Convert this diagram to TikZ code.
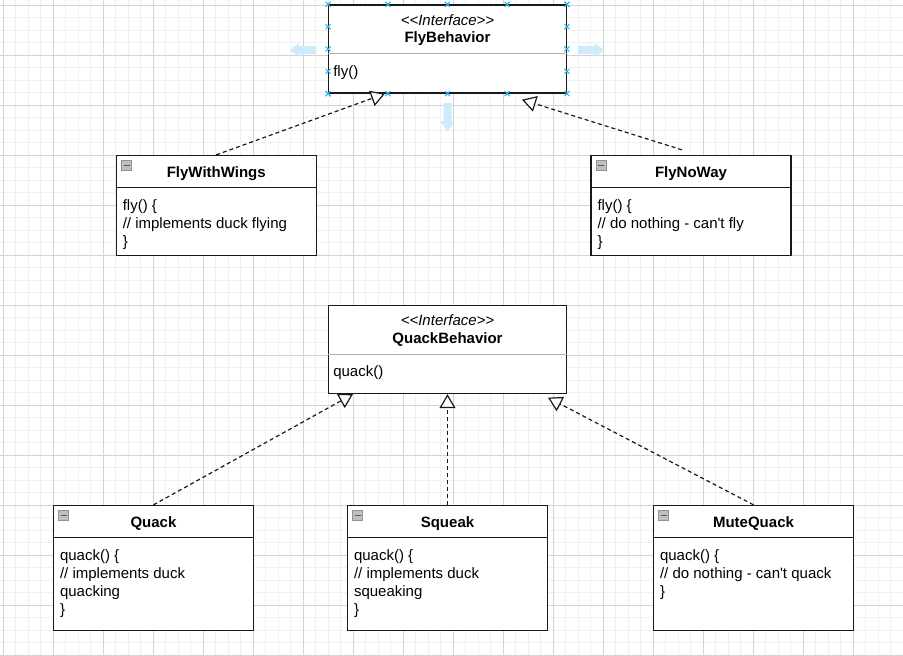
\documentclass[tikz,border=0pt]{standalone}
\usepackage{fontspec}
\setmainfont{Liberation Sans}[Ligatures=TeXOff]
\usepackage{tikz}
\usetikzlibrary{positioning, arrows.meta, calc}
\usepackage{xcolor}

\definecolor{gridminor}{RGB}{240,240,240}
\definecolor{gridmajor}{RGB}{212,212,212}
\definecolor{handle}{RGB}{41,182,242}
\definecolor{hint}{RGB}{207,234,249}

\begin{document}
\begin{tikzpicture}[
    x=1pt, y=-1pt,
    font=\fontsize{15pt}{18pt}\selectfont,
    umlbox/.style={draw=black!90, line width=1.3pt, fill=white, inner sep=0pt},
    iface/.style={umlbox, minimum width=237.5pt, minimum height=88pt},
    cls/.style={umlbox, minimum width=200pt, minimum height=100pt},
    stereo/.style={font=\fontsize{15pt}{18pt}\selectfont\itshape, anchor=base, inner sep=0pt},
    ttl/.style={font=\fontsize{15pt}{18pt}\selectfont\bfseries, anchor=base, inner sep=0pt},
    ops/.style={anchor=north west, align=left, inner sep=0pt},
    realize/.style={draw=black!90, line width=1.2pt, dash pattern=on 4pt off 3pt,
        -{Triangle[open, fill=white, length=14pt, width=16pt]}}
]
    % Canvas with the editor grid
    \useasboundingbox (0,0) rectangle (903,656);
    \fill[white] (0,0) rectangle (903,656);
    \foreach \i in {0,...,72} \draw[gridminor, line width=1pt] (3+12.5*\i,0) -- (3+12.5*\i,656);
    \foreach \i in {0,...,52} \draw[gridminor, line width=1pt] (0,5+12.5*\i) -- (903,5+12.5*\i);
    \foreach \i in {0,...,18} \draw[gridmajor, line width=1pt] (3+50*\i,0) -- (3+50*\i,656);
    \foreach \i in {0,...,13} \draw[gridmajor, line width=1pt] (0,5+50*\i) -- (903,5+50*\i);

    % Interfaces
    \node[iface] (fb) at (447.5,49) {};
    \node[iface] (qb) at (447.5,349.5) {};

    % Classes
    \node[cls] (fww) at (216.25,205.5) {};
    \node[cls] (fnw) at (691,205.5) {};
    \node[cls, minimum height=125pt] (qk) at (153.5,568) {};
    \node[cls, minimum height=125pt] (sq) at (447.5,568) {};
    \node[cls, minimum height=125pt] (mq) at (753.5,568) {};

    % Interface compartments
    \foreach \b in {fb,qb}
        \draw[gray!60, line width=1pt] ($(\b.north west)+(0,49.5)$) -- ($(\b.north east)+(0,49.5)$);
    \node[stereo] (fb-st) at ($(fb.north)+(0,21)$) {<<Interface>>};
    \node[ttl] (fb-name) at ($(fb.north)+(0,38.5)$) {FlyBehavior};
    \node[ops] (fb-ops) at ($(fb.north west)+(5,61)$) {fly()};
    \node[stereo] (qb-st) at ($(qb.north)+(0,21)$) {<<Interface>>};
    \node[ttl] (qb-name) at ($(qb.north)+(0,38.5)$) {QuackBehavior};
    \node[ops] (qb-ops) at ($(qb.north west)+(5,61)$) {quack()};

    % Class compartments and collapse icons
    \foreach \b in {fww,fnw,qk,sq,mq} {
        \draw[black!90, line width=1.3pt] ($(\b.north west)+(0,32.5)$) -- ($(\b.north east)+(0,32.5)$);
        \draw[gray!85, fill=gray!50, line width=0.8pt] ($(\b.north west)+(6,6)$) rectangle ($(\b.north west)+(16,15.5)$);
        \draw[black!65, line width=1.3pt] ($(\b.north west)+(8,10.75)$) -- ($(\b.north west)+(14,10.75)$);
    }
    \node[ttl] (fww-name) at ($(fww.north)+(0,23)$) {FlyWithWings};
    \node[ops] (fww-ops) at ($(fww.north west)+(7,44.5)$) {fly() \{\\// implements duck flying\\\}};
    \node[ttl] (fnw-name) at ($(fnw.north)+(0,23)$) {FlyNoWay};
    \node[ops] (fnw-ops) at ($(fnw.north west)+(7,44.5)$) {fly() \{\\// do nothing - can't fly\\\}};
    \node[ttl] (qk-name) at ($(qk.north)+(0,23)$) {Quack};
    \node[ops] (qk-ops) at ($(qk.north west)+(7,44.5)$) {quack() \{\\// implements duck\\quacking\\\}};
    \node[ttl] (sq-name) at ($(sq.north)+(0,23)$) {Squeak};
    \node[ops] (sq-ops) at ($(sq.north west)+(7,44.5)$) {quack() \{\\// implements duck\\squeaking\\\}};
    \node[ttl] (mq-name) at ($(mq.north)+(0,23)$) {MuteQuack};
    \node[ops] (mq-ops) at ($(mq.north west)+(7,44.5)$) {quack() \{\\// do nothing - can't quack\\\}};

    % Realizations
    \draw[realize] (fww.north) -- ([xshift=-62.5pt]fb.south);
    \draw[realize] ([shift={(-9pt,5pt)}]fnw.north) -- ([shift={(74.5pt,-6pt)}]fb.south);
    \draw[realize] (qk.north) -- ([xshift=-94.5pt]qb.south);
    \draw[realize] (sq.north) -- (qb.south);
    \draw[realize] (mq.north) -- ([shift={(100.5pt,-3.5pt)}]qb.south);

    % Selection handles on FlyBehavior
    \foreach \t in {0,0.25,0.5,0.75,1} {
        \draw[handle, line width=1pt]
            ($(fb.north west)!\t!(fb.north east)$) +(-2.5,-2.5) -- +(2.5,2.5) +(-2.5,2.5) -- +(2.5,-2.5)
            ($(fb.south west)!\t!(fb.south east)$) +(-2.5,-2.5) -- +(2.5,2.5) +(-2.5,2.5) -- +(2.5,-2.5)
            ($(fb.north west)!\t!(fb.south west)$) +(-2.5,-2.5) -- +(2.5,2.5) +(-2.5,2.5) -- +(2.5,-2.5)
            ($(fb.north east)!\t!(fb.south east)$) +(-2.5,-2.5) -- +(2.5,2.5) +(-2.5,2.5) -- +(2.5,-2.5);
    }
    \fill[hint] (290,50) -- (299,43) -- (299,46) -- (316,46) -- (316,54) -- (299,54) -- (299,57) -- cycle;
    \fill[hint] (604,50) -- (595,43) -- (595,46) -- (578,46) -- (578,54) -- (595,54) -- (595,57) -- cycle;
    \fill[hint] (447.5,131.5) -- (440,121) -- (443.5,121) -- (443.5,103) -- (451.5,103) -- (451.5,121) -- (455,121) -- cycle;
\end{tikzpicture}
\end{document}
